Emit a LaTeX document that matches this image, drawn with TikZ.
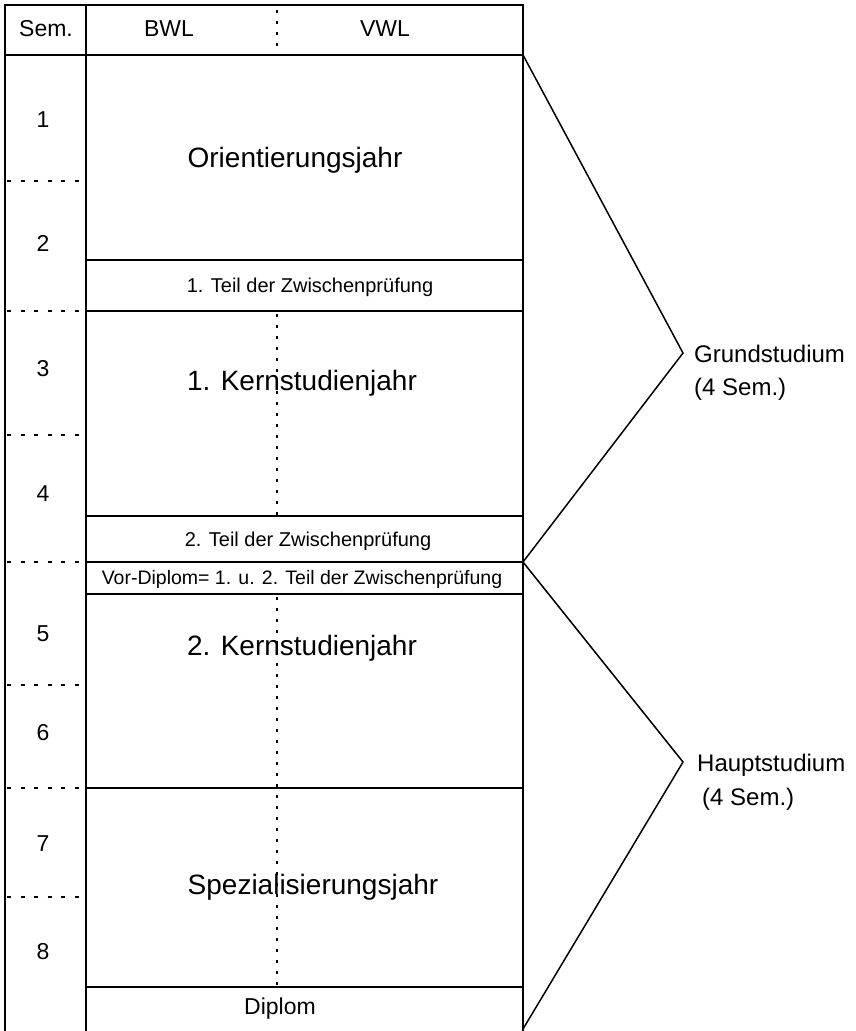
\documentclass[tikz,border=0pt]{standalone}
\usepackage{fontspec}
\setmainfont{Liberation Sans}
\begin{document}
\begin{tikzpicture}[x=1pt,y=-1pt,
  frame/.style={line width=1.5pt},
  midline/.style={line width=1.4pt, dash pattern=on 3pt off 8pt},
  semline/.style={line width=1.4pt, dash pattern=on 4pt off 9.5pt},
  bracket/.style={line width=1.5pt},
  txt/.style={anchor=base, inner sep=0pt},
  big/.style={txt, font=\fontsize{28}{30}\selectfont},
  small/.style={txt, font=\fontsize{20}{22}\selectfont},
  head/.style={txt, font=\fontsize{23}{25}\selectfont},
  num/.style={txt, font=\fontsize{23}{25}\selectfont},
  side/.style={anchor=base west, inner sep=0pt, font=\fontsize{24}{26}\selectfont}]
\useasboundingbox (0,0) rectangle (856,1031);
% frame and column lines
\draw[frame] (5,1031) -- (5,5) -- (523,5) -- (523,1031);
\draw[frame] (86,5) -- (86,1031);
\draw[frame] (5,55) -- (523,55);
\foreach \y in {260,311,516,562,594,788,987}
  \draw[frame] (86,\y) -- (523,\y);
% semester separators
\foreach \y in {181,311,435,562,685,788,897}
  \draw[semline] (7,\y) -- (85,\y);
% middle BWL/VWL separators
\draw[midline] (277,10) -- (277,54);
\draw[midline] (277,314) -- (277,515);
\draw[midline] (277,597) -- (277,990);
% header
\node[head] (hsem) at (46,36) {Sem.};
\node[head] (hbwl) at (169,36) {BWL};
\node[head] (hvwl) at (385,36) {VWL};
% semester numbers
\node[num] (s1) at (43,127) {1};
\node[num] (s2) at (43,251) {2};
\node[num] (s3) at (43,376) {3};
\node[num] (s4) at (43,501) {4};
\node[num] (s5) at (43,641) {5};
\node[num] (s6) at (43,740) {6};
\node[num] (s7) at (43,851) {7};
\node[num] (s8) at (43,959) {8};
% row texts
\node[big] (orient) at (295,167) {Orientierungsjahr};
\node[small] (teil1) at (310,292) {1. Teil der Zwischenprüfung};
\node[big] (kern1) at (302,390) {1. Kernstudienjahr};
\node[small] (teil2) at (308,546) {2. Teil der Zwischenprüfung};
\node[small, font=\fontsize{19.5}{21}\selectfont] (vordip) at (302,584) {Vor-Diplom= 1. u. 2. Teil der Zwischenprüfung};
\node[big] (kern2) at (302,655) {2. Kernstudienjahr};
\node[big] (spez) at (313,894) {Spezialisierungsjahr};
\node[txt, font=\fontsize{23}{25}\selectfont] (dipl) at (280,1014) {Diplom};
% brackets
\coordinate (gtop) at (523,55);
\coordinate (gtip) at (683,353);
\coordinate (mid) at (523,562);
\coordinate (htip) at (683,762);
\coordinate (hbot) at (523,1029);
\draw[bracket, line join=miter] (gtop) -- (gtip) -- (mid) -- (htip) -- (hbot);
\node[side] (grund) at (694,362) {Grundstudium};
\node[side] (grundsem) at (694,395) {(4 Sem.)};
\node[side] (haupt) at (697,771) {Hauptstudium};
\node[side] (hauptsem) at (702,805) {(4 Sem.)};
\end{tikzpicture}
\end{document}
